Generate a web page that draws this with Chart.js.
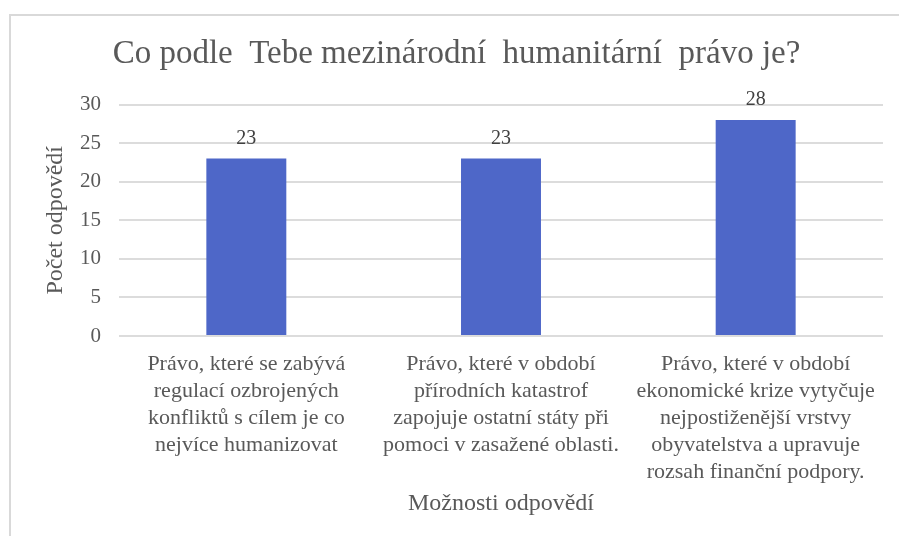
<!DOCTYPE html>
<html><head><meta charset="utf-8">
<script src="https://cdn.jsdelivr.net/npm/chart.js@4/dist/chart.umd.min.js"></script>
<style>
html,body{margin:0;padding:0;background:#fff;overflow:hidden}
#wrap{position:relative;width:899px;height:536px}
#frame{position:absolute;left:9px;top:14px;width:900px;height:540px;border:2px solid #d9d9d9;box-sizing:border-box}
canvas{position:absolute;left:0;top:0}
</style></head><body>
<div id="wrap"><div id="frame"></div><canvas id="c" width="899" height="536"></canvas></div>
<script>
const chartTitle = "Co podle  Tebe mezinárodní  humanitární  právo je?";
const yAxisTitle = "Počet odpovědí";
const xAxisTitle = "Možnosti odpovědí";
const categories = [
  ["Právo, které se zabývá", "regulací ozbrojených", "konfliktů s cílem je co", "nejvíce humanizovat"],
  ["Právo, které v období", "přírodních katastrof", "zapojuje ostatní státy při", "pomoci v zasažené oblasti."],
  ["Právo, které v období", "ekonomické krize vytyčuje", "nejpostiženější vrstvy", "obyvatelstva a upravuje", "rozsah finanční podpory."]
];
const values = [23, 23, 28];
const yMin = 0, yMax = 30, yStep = 5;

const FONT = "'Liberation Serif', 'Times New Roman', serif";
const TXT = '#595959';
Chart.defaults.font.family = FONT;
Chart.defaults.color = TXT;

const dataLabels = {
  id: 'dataLabels',
  afterDatasetsDraw(chart) {
    const ctx = chart.ctx;
    const meta = chart.getDatasetMeta(0);
    ctx.save();
    ctx.font = '20px ' + FONT;
    ctx.fillStyle = '#404040';
    ctx.textAlign = 'center';
    ctx.textBaseline = 'alphabetic';
    meta.data.forEach((el, i) => {
      ctx.fillText(String(values[i]), el.x, el.y - 15);
    });
    ctx.restore();
  }
};

new Chart(document.getElementById('c'), {
  type: 'bar',
  data: {
    labels: categories,
    datasets: [{
      data: values,
      backgroundColor: '#4E67C8',
      borderWidth: 0,
      barPercentage: 0.314,
      categoryPercentage: 1
    }]
  },
  options: {
    responsive: false,
    animation: false,
    devicePixelRatio: 1,
    layout: { padding: { left: 30, right: 16, top: 0, bottom: 0 } },
    plugins: {
      legend: { display: false },
      tooltip: { enabled: false },
      title: {
        display: true,
        text: chartTitle,
        color: TXT,
        font: { family: FONT, size: 33, weight: 'normal' },
        padding: { top: 35, bottom: 30 }
      }
    },
    scales: {
      x: {
        grid: { display: false, drawTicks: false },
        border: { display: false },
        ticks: {
          color: TXT,
          font: { family: FONT, size: 22, lineHeight: 1.22 },
          padding: 15,
          maxRotation: 0,
          minRotation: 0,
          autoSkip: false
        },
        title: {
          display: true,
          text: xAxisTitle,
          color: TXT,
          font: { family: FONT, size: 24 },
          padding: { top: 0, bottom: 18 }
        },
        afterFit(s) { s.height = 200; }
      },
      y: {
        min: yMin, max: yMax,
        ticks: { stepSize: yStep, color: TXT, font: { family: FONT, size: 21 }, padding: 18 },
        grid: { color: '#dcdcdc', lineWidth: 2, drawTicks: false },
        border: { display: false },
        title: {
          display: true,
          text: yAxisTitle,
          color: TXT,
          font: { family: FONT, size: 24 },
          padding: { top: 11, bottom: 0 }
        },
        afterFit(s) { s.width = 89; }
      }
    }
  },
  plugins: [dataLabels]
});
</script>
</body></html>
